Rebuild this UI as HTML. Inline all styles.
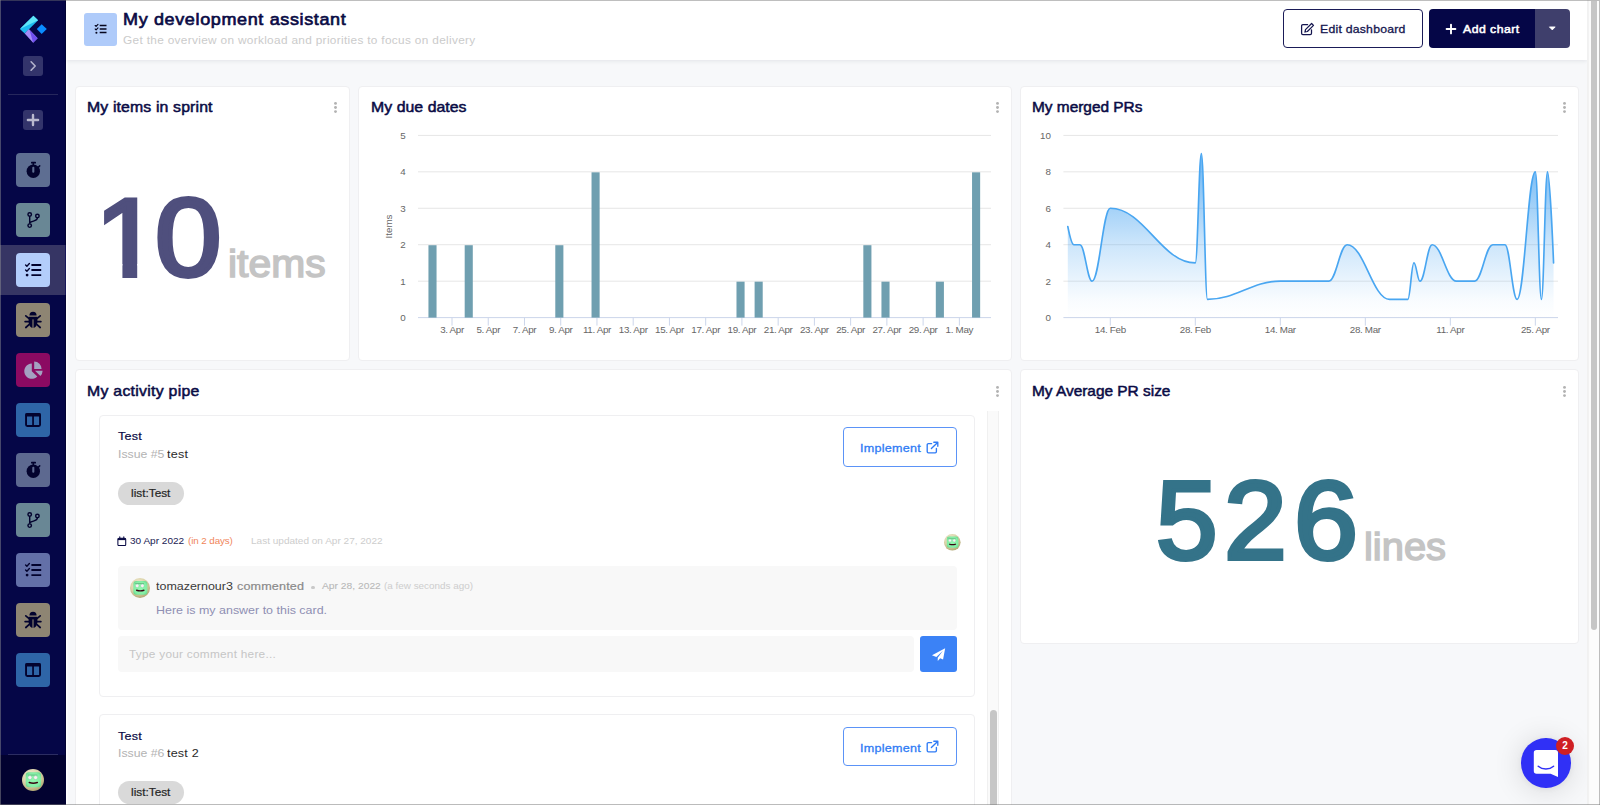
<!DOCTYPE html>
<html lang="en"><head><meta charset="utf-8"><title>My development assistant</title>
<style>
html,body{margin:0;padding:0}
body{width:1600px;height:805px;overflow:hidden;position:relative;background:#f7f8fa;font-family:"Liberation Sans",sans-serif}
.b{position:absolute;box-sizing:border-box;display:block}
.t{position:absolute;white-space:nowrap;line-height:1;display:block}
</style></head><body>
<div class="b" style="left:0;top:0;width:66px;height:805px;background:#050647"></div>
<div class="b" style="left:0.00px;top:755.00px;width:66.00px;height:50.00px;background:#020230"></div>
<div class="b" style="left:8.00px;top:754.00px;width:50.00px;height:1.00px;background:#2c2d62"></div>
<div class="b" style="left:8.00px;top:94.00px;width:50.00px;height:1.00px;background:#26275c"></div>
<svg class="b" style="left:14px;top:10px" width="40" height="40" viewBox="14 10 40 40">
<polygon points="19.900,28.900 33.400,15.700 38.100,20.200 24.700,33.400" fill="#1cb9ee"/>
<polygon points="19.900,28.900 33.400,15.700 38.100,20.200" fill="#5fe6f8"/>
<polygon points="24.700,33.400 28.900,29.100 37.600,38.300 33.100,42.800" fill="#a48cf8"/>
<polygon points="29.600,30 37.600,38.300 33.100,42.800" fill="#6f4ff0"/>
<polygon points="36.800,29.100 41.700,24.200 46.800,29.100 41.700,34.100" fill="#0a8cff"/>
</svg>
<div class="b" style="left:23.00px;top:56.00px;width:20.00px;height:20.00px;background:#33346b;border-radius:3px"></div>
<svg class="b" style="left:23px;top:56px" width="20" height="20" viewBox="0 0 20 20"><path d="M8.100 5.800 L12.200 10 L8.100 14.200" fill="none" stroke="#b3b3cc" stroke-width="1.600" stroke-linecap="round" stroke-linejoin="round"/></svg>
<div class="b" style="left:23.00px;top:110.00px;width:20.00px;height:20.00px;background:#33346b;border-radius:3px"></div>
<svg class="b" style="left:23px;top:110px" width="20" height="20" viewBox="0 0 20 20"><path d="M10 4.900V15.100M4.900 10H15.100" fill="none" stroke="#b9b9ce" stroke-width="2.400" stroke-linecap="round"/></svg>
<div class="b" style="left:65.00px;top:0.00px;width:1.00px;height:805.00px;background:#020233"></div>
<div class="b" style="left:0.00px;top:245.00px;width:66.00px;height:50.00px;background:#363564"></div>
<div class="b" style="left:65.00px;top:245.00px;width:1.00px;height:50.00px;background:#17175a"></div>
<div class="b" style="left:66.00px;top:60.00px;width:1.00px;height:745.00px;background:#fff"></div>
<div class="b" style="left:67.00px;top:60.00px;width:1.00px;height:745.00px;background:rgba(255,255,255,.5)"></div>
<svg class="b" style="left:16px;top:153px" width="34" height="34" viewBox="0 0 34 34"><rect width="34" height="34" rx="4" fill="#5e6e92"/><circle cx="17.300" cy="18.200" r="6.700" fill="#03032e"/><rect x="15" y="8.800" width="5" height="1.700" rx=".6" fill="#03032e"/><rect x="16.500" y="9.800" width="1.600" height="2.400" fill="#03032e"/><path d="M22.500 14.100l1.200-1.200" stroke="#03032e" stroke-width="1.500" stroke-linecap="round"/><rect x="16.250" y="13.800" width="2.100" height="6" rx="1" fill="#5e6e92"/></svg>
<svg class="b" style="left:16px;top:203px" width="34" height="34" viewBox="0 0 34 34"><rect width="34" height="34" rx="4" fill="#698795"/><g fill="none" stroke="#03032e" stroke-width="1.450"><circle cx="13.700" cy="11.400" r="1.750"/><circle cx="13.700" cy="22.600" r="1.750"/><circle cx="21.400" cy="13" r="1.750"/><path d="M13.700 13.200V20.800M21.400 14.800c0 3.600-4.700 2.700-7.700 4.800"/></g></svg>
<svg class="b" style="left:16px;top:253px" width="34" height="34" viewBox="0 0 34 34"><rect width="34" height="34" rx="4" fill="#b3cdfb"/><g fill="none" stroke="#03032e" stroke-linecap="round" stroke-linejoin="round"><path d="M15.400 12H25.200M15.400 17H25.200M15.400 22.100H25.200" stroke-width="1.950" stroke-linecap="butt"/><path d="M9.600 11.900l1.300 1.300 2.500-2.700M9.600 16.900l1.300 1.300 2.500-2.700" stroke-width="1.350"/></g><circle cx="11.100" cy="22.100" r="1.400" fill="#03032e"/></svg>
<svg class="b" style="left:16px;top:303px" width="34" height="34" viewBox="0 0 34 34"><rect width="34" height="34" rx="4" fill="#8e8573"/><path d="M13.400 12.600a3.600 3.900 0 0 1 7.200 0z" fill="#03032e"/><path d="M12.600 13.800h8.800v5.400a4.400 5.800 0 0 1-8.800 0z" fill="#03032e"/><g stroke="#03032e" stroke-width="1.700" stroke-linecap="round" fill="none"><path d="M12.800 15.400l-3-2.600M21.200 15.400l3-2.600M12.600 18.600H9.100M21.400 18.600h3.500M13 21.600l-3.200 2.900M21 21.600l3.200 2.900"/></g><rect x="16.450" y="16.400" width="1.100" height="8.800" fill="#8e8573"/></svg>
<svg class="b" style="left:16px;top:353px" width="34" height="34" viewBox="0 0 34 34"><rect width="34" height="34" rx="4" fill="#8b0a62"/><path d="M15.800 10.600a7.600 7.600 0 1 0 5.500 12.900l-5.500-5.300z" fill="#a4a0c1"/><path d="M18.200 8.600a7.400 7.400 0 0 1 7.400 7.400h-7.400z" fill="#a4a0c1"/><path d="M19 17.700h7.600a7.600 7.600 0 0 1-2.200 5.300z" fill="#a4a0c1"/></svg>
<svg class="b" style="left:16px;top:403px" width="34" height="34" viewBox="0 0 34 34"><rect width="34" height="34" rx="4" fill="#2e65a7"/><rect x="10.050" y="11" width="14" height="12" rx="1.200" fill="none" stroke="#03032e" stroke-width="1.900"/><rect x="9.400" y="10.200" width="15.300" height="3.200" rx=".8" fill="#03032e"/><rect x="16.200" y="11" width="1.700" height="12" fill="#03032e"/></svg>
<svg class="b" style="left:16px;top:453px" width="34" height="34" viewBox="0 0 34 34"><rect width="34" height="34" rx="4" fill="#5d6990"/><circle cx="17.300" cy="18.200" r="6.700" fill="#03032e"/><rect x="15" y="8.800" width="5" height="1.700" rx=".6" fill="#03032e"/><rect x="16.500" y="9.800" width="1.600" height="2.400" fill="#03032e"/><path d="M22.500 14.100l1.200-1.200" stroke="#03032e" stroke-width="1.500" stroke-linecap="round"/><rect x="16.250" y="13.800" width="2.100" height="6" rx="1" fill="#5d6990"/></svg>
<svg class="b" style="left:16px;top:503px" width="34" height="34" viewBox="0 0 34 34"><rect width="34" height="34" rx="4" fill="#698795"/><g fill="none" stroke="#03032e" stroke-width="1.450"><circle cx="13.700" cy="11.400" r="1.750"/><circle cx="13.700" cy="22.600" r="1.750"/><circle cx="21.400" cy="13" r="1.750"/><path d="M13.700 13.200V20.800M21.400 14.800c0 3.600-4.700 2.700-7.700 4.800"/></g></svg>
<svg class="b" style="left:16px;top:553px" width="34" height="34" viewBox="0 0 34 34"><rect width="34" height="34" rx="4" fill="#6370a8"/><g fill="none" stroke="#03032e" stroke-linecap="round" stroke-linejoin="round"><path d="M15.400 12H25.200M15.400 17H25.200M15.400 22.100H25.200" stroke-width="1.950" stroke-linecap="butt"/><path d="M9.600 11.900l1.300 1.300 2.500-2.700M9.600 16.900l1.300 1.300 2.500-2.700" stroke-width="1.350"/></g><circle cx="11.100" cy="22.100" r="1.400" fill="#03032e"/></svg>
<svg class="b" style="left:16px;top:603px" width="34" height="34" viewBox="0 0 34 34"><rect width="34" height="34" rx="4" fill="#8e8573"/><path d="M13.400 12.600a3.600 3.900 0 0 1 7.200 0z" fill="#03032e"/><path d="M12.600 13.800h8.800v5.400a4.400 5.800 0 0 1-8.800 0z" fill="#03032e"/><g stroke="#03032e" stroke-width="1.700" stroke-linecap="round" fill="none"><path d="M12.800 15.400l-3-2.600M21.200 15.400l3-2.600M12.600 18.600H9.100M21.400 18.600h3.500M13 21.600l-3.200 2.900M21 21.600l3.200 2.900"/></g><rect x="16.450" y="16.400" width="1.100" height="8.800" fill="#8e8573"/></svg>
<svg class="b" style="left:16px;top:653px" width="34" height="34" viewBox="0 0 34 34"><rect width="34" height="34" rx="4" fill="#2e65a7"/><rect x="10.050" y="11" width="14" height="12" rx="1.200" fill="none" stroke="#03032e" stroke-width="1.900"/><rect x="9.400" y="10.200" width="15.300" height="3.200" rx=".8" fill="#03032e"/><rect x="16.200" y="11" width="1.700" height="12" fill="#03032e"/></svg>
<svg class="b" style="left:22.40px;top:768.90px" width="22" height="22" viewBox="0 0 22 22"><defs><radialGradient id="ag33779" cx=".42" cy=".34" r=".72"><stop offset="0" stop-color="#f5f1dc"/><stop offset=".55" stop-color="#dbd3a9"/><stop offset="1" stop-color="#aa9f6a"/></radialGradient><radialGradient id="ag33779f" cx=".5" cy=".5" r=".62"><stop offset="0" stop-color="#93f8b1"/><stop offset=".75" stop-color="#84eea5"/><stop offset="1" stop-color="#68d88d"/></radialGradient></defs><circle cx="11" cy="11" r="11" fill="url(#ag33779)"/><rect x="3.700" y="3.300" width="15.400" height="15" rx="3.200" fill="url(#ag33779f)"/><path d="M6.200 6.100H15" stroke="#62b47f" stroke-width=".9" stroke-linecap="round"/><circle cx="7.900" cy="8.600" r="2" fill="#fbeef5" stroke="#74d596" stroke-width=".45"/><circle cx="13.600" cy="8.600" r="2" fill="#fbeef5" stroke="#74d596" stroke-width=".45"/><path d="M7.300 13.500q4 1.400 8 0" fill="none" stroke="#3a0714" stroke-width="1.550" stroke-linecap="round"/></svg>
<div class="b" style="left:66.00px;top:0.00px;width:1521.00px;height:60.00px;background:#fff;box-shadow:0 1px 4px rgba(40,50,70,.10)"></div>
<div class="b" style="left:84.00px;top:12.50px;width:33.00px;height:33.00px;background:#afcbfa;border-radius:3px"></div>
<svg class="b" style="left:84px;top:12px" width="33" height="34" viewBox="0 0 33 34"><g fill="none" stroke="#06061f" stroke-linecap="round" stroke-linejoin="round"><path d="M15.700 13.600H22.500M15.700 17.100H22.500M15.700 20.600H22.500" stroke-width="1.500" stroke-linecap="butt"/><path d="M11.200 13.500l.9.900 1.900-2M11.200 17l.9.900 1.900-2" stroke-width="1.150"/></g><circle cx="12.400" cy="20.700" r="1.050" fill="#06061f"/></svg>
<span class="t" id="t1" style="left:122.80px;top:12.25px;font-size:16.6px;color:#0a0b45;transform-origin:0 0;transform:scaleX(1.0850);letter-spacing:0.586px;-webkit-text-stroke:0.65px #0a0b45;">My development assistant</span>
<span class="t" id="t2" style="left:123.00px;top:35.27px;font-size:10.9px;color:#cbcbcb;transform-origin:0 0;transform:scaleX(1.0850);letter-spacing:0.301px;">Get the overview on workload and priorities to focus on delivery</span>
<div class="b" style="left:1283.00px;top:9.00px;width:139.50px;height:39.00px;border:1px solid #1a1b57;border-radius:4px;background:#fff"></div>
<svg class="b" style="left:1300px;top:22px" width="16" height="14" viewBox="0 0 16 14"><g fill="none" stroke="#15164f" stroke-width="1.25" stroke-linejoin="round" stroke-linecap="round"><path d="M7.6 2.6H2.9a1.3 1.3 0 0 0-1.3 1.300V11.300a1.300 1.300 0 0 0 1.300 1.300H10.200a1.300 1.300 0 0 0 1.300-1.300V7.800"/><path d="M11.600 1.500l1.900 1.900-6.100 6.100-2.400.500.500-2.400z"/></g></svg>
<span class="t" id="t3" style="left:1319.50px;top:23.93px;font-size:11.3px;color:#15164f;transform-origin:0 0;transform:scaleX(1.0850);letter-spacing:0.207px;-webkit-text-stroke:0.3px #15164f;">Edit dashboard</span>
<div class="b" style="left:1429.00px;top:9.00px;width:106.00px;height:39.00px;background:#050647;border-radius:4px 0 0 4px"></div>
<div class="b" style="left:1535.00px;top:9.00px;width:35.00px;height:39.00px;background:#3f3f6c;border-radius:0 4px 4px 0"></div>
<svg class="b" style="left:1445px;top:22.5px" width="12" height="12" viewBox="0 0 12 12"><path d="M6 1.600V10.400M1.600 6H10.400" stroke="#fff" stroke-width="1.900" stroke-linecap="round"/></svg>
<span class="t" id="t4" style="left:1463.00px;top:23.93px;font-size:11.3px;color:#fff;transform-origin:0 0;transform:scaleX(1.0850);letter-spacing:0.423px;-webkit-text-stroke:0.5px #fff;">Add chart</span>
<svg class="b" style="left:1547.5px;top:25.5px" width="10" height="6" viewBox="0 0 10 6"><path d="M1.400.9h5.800L4.300 3.900z" fill="#fff" stroke="#fff" stroke-width=".8" stroke-linejoin="round"/></svg>
<div class="b" style="left:75.00px;top:86.00px;width:275.00px;height:275.00px;background:#fff;border:1px solid #efeff1;border-radius:4px;"></div>
<div class="b" style="left:358.00px;top:86.00px;width:654.00px;height:275.00px;background:#fff;border:1px solid #efeff1;border-radius:4px;"></div>
<div class="b" style="left:1020.00px;top:86.00px;width:559.00px;height:275.00px;background:#fff;border:1px solid #efeff1;border-radius:4px;"></div>
<div class="b" style="left:75.00px;top:369.00px;width:937.00px;height:461.00px;background:#fff;border:1px solid #efeff1;border-radius:4px;"></div>
<div class="b" style="left:1020.00px;top:369.00px;width:559.00px;height:275.00px;background:#fff;border:1px solid #efeff1;border-radius:4px;"></div>
<svg class="b" style="left:332.90px;top:101.00px" width="5" height="13" viewBox="0 0 5 13"><circle cx="2.500" cy="2.400" r="1.450" fill="#b2b2b2"/><circle cx="2.500" cy="6.500" r="1.450" fill="#b2b2b2"/><circle cx="2.500" cy="10.600" r="1.450" fill="#b2b2b2"/></svg>
<svg class="b" style="left:994.90px;top:101.00px" width="5" height="13" viewBox="0 0 5 13"><circle cx="2.500" cy="2.400" r="1.450" fill="#b2b2b2"/><circle cx="2.500" cy="6.500" r="1.450" fill="#b2b2b2"/><circle cx="2.500" cy="10.600" r="1.450" fill="#b2b2b2"/></svg>
<svg class="b" style="left:1562.20px;top:101.00px" width="5" height="13" viewBox="0 0 5 13"><circle cx="2.500" cy="2.400" r="1.450" fill="#b2b2b2"/><circle cx="2.500" cy="6.500" r="1.450" fill="#b2b2b2"/><circle cx="2.500" cy="10.600" r="1.450" fill="#b2b2b2"/></svg>
<svg class="b" style="left:994.90px;top:384.70px" width="5" height="13" viewBox="0 0 5 13"><circle cx="2.500" cy="2.400" r="1.450" fill="#b2b2b2"/><circle cx="2.500" cy="6.500" r="1.450" fill="#b2b2b2"/><circle cx="2.500" cy="10.600" r="1.450" fill="#b2b2b2"/></svg>
<svg class="b" style="left:1562.20px;top:384.70px" width="5" height="13" viewBox="0 0 5 13"><circle cx="2.500" cy="2.400" r="1.450" fill="#b2b2b2"/><circle cx="2.500" cy="6.500" r="1.450" fill="#b2b2b2"/><circle cx="2.500" cy="10.600" r="1.450" fill="#b2b2b2"/></svg>
<span class="t" id="t5" style="left:87.00px;top:100.14px;font-size:14.6px;color:#0a0b45;transform-origin:0 0;transform:scaleX(1.0850);letter-spacing:0.124px;-webkit-text-stroke:0.5px #0a0b45;">My items in sprint</span>
<span class="t" id="t6" style="left:370.50px;top:100.14px;font-size:14.6px;color:#0a0b45;transform-origin:0 0;transform:scaleX(1.0850);letter-spacing:0.040px;-webkit-text-stroke:0.5px #0a0b45;">My due dates</span>
<span class="t" id="t7" style="left:1032.00px;top:100.14px;font-size:14.6px;color:#0a0b45;transform-origin:0 0;transform:scaleX(1.0552);-webkit-text-stroke:0.5px #0a0b45;">My merged PRs</span>
<span class="t" id="t8" style="left:87.00px;top:384.14px;font-size:14.6px;color:#0a0b45;transform-origin:0 0;transform:scaleX(1.0850);letter-spacing:0.251px;-webkit-text-stroke:0.5px #0a0b45;">My activity pipe</span>
<span class="t" id="t9" style="left:1032.00px;top:383.74px;font-size:14.6px;color:#0a0b45;transform-origin:0 0;transform:scaleX(1.0554);-webkit-text-stroke:0.5px #0a0b45;">My Average PR size</span>
<div><span class="t" style="left:95.13px;top:182.91px;font-size:110.8px;color:#4f4f7d;-webkit-text-stroke:4.2px #4f4f7d;transform-origin:0 0;transform:scaleX(1.0629);clip-path:polygon(-10px -10px,71.6px -10px,71.6px 81.2px,39.7px 81.2px,39.7px 120.8px,25.8px 120.8px,25.8px 81.2px,-10px 81.2px);">1</span><span class="t" style="left:154.90px;top:182.91px;font-size:110.8px;color:#4f4f7d;-webkit-text-stroke:4.2px #4f4f7d;transform-origin:0 0;transform:scaleX(1.0794);">0</span> <span class="t" id="t10" style="left:227.80px;top:245.11px;font-size:38.5px;color:#c4c4c4;transform-origin:0 0;transform:scaleX(1.0610);-webkit-text-stroke:1.5px #c4c4c4;">items</span></div>
<div><span class="t" style="left:1156.07px;top:465.51px;font-size:110.8px;color:#347389;-webkit-text-stroke:4.2px #347389;transform-origin:0 0;transform:scaleX(0.9979);">5</span><span class="t" style="left:1223.89px;top:465.51px;font-size:110.8px;color:#347389;-webkit-text-stroke:4.2px #347389;transform-origin:0 0;transform:scaleX(1.0196);">2</span><span class="t" style="left:1294.31px;top:465.51px;font-size:110.8px;color:#347389;-webkit-text-stroke:4.2px #347389;transform-origin:0 0;transform:scaleX(1.0384);">6</span> <span class="t" id="t11" style="left:1364.20px;top:528.31px;font-size:38.5px;color:#c4c4c4;transform-origin:0 0;transform:scaleX(1.0355);-webkit-text-stroke:1.5px #c4c4c4;">lines</span></div>
<svg class="b" style="left:0;top:0" width="1600" height="805" viewBox="0 0 1600 805" font-family="Liberation Sans, sans-serif">
<defs><linearGradient id="ar" gradientUnits="userSpaceOnUse" x1="0" y1="150" x2="0" y2="317.6"><stop offset="0.000" stop-color="#3f9ff0" stop-opacity="0.8"/><stop offset="0.370" stop-color="#3f9ff0" stop-opacity="0.45"/><stop offset="0.567" stop-color="#3f9ff0" stop-opacity="0.26"/><stop offset="0.782" stop-color="#3f9ff0" stop-opacity="0.11"/><stop offset="0.895" stop-color="#3f9ff0" stop-opacity="0.035"/><stop offset="1.000" stop-color="#3f9ff0" stop-opacity="0.0"/></linearGradient></defs>
<path d="M418 317.60H991" stroke="#ccd6eb" stroke-width="1"/>
<text x="405.6" y="321.10" font-size="9.8" fill="#666" text-anchor="end">0</text>
<path d="M418 281.16H991" stroke="#e6e6e6" stroke-width="1"/>
<text x="405.6" y="284.66" font-size="9.8" fill="#666" text-anchor="end">1</text>
<path d="M418 244.72H991" stroke="#e6e6e6" stroke-width="1"/>
<text x="405.6" y="248.22" font-size="9.8" fill="#666" text-anchor="end">2</text>
<path d="M418 208.28H991" stroke="#e6e6e6" stroke-width="1"/>
<text x="405.6" y="211.78" font-size="9.8" fill="#666" text-anchor="end">3</text>
<path d="M418 171.84H991" stroke="#e6e6e6" stroke-width="1"/>
<text x="405.6" y="175.34" font-size="9.8" fill="#666" text-anchor="end">4</text>
<path d="M418 135.40H991" stroke="#e6e6e6" stroke-width="1"/>
<text x="405.6" y="138.90" font-size="9.8" fill="#666" text-anchor="end">5</text>
<text transform="translate(391.8 226.5) rotate(-90)" font-size="9.8" fill="#666" text-anchor="middle">Items</text>
<path d="M452.00 317.6V325.6" stroke="#ccd6eb" stroke-width="1"/>
<text x="452.00" y="333.2" font-size="9.8" fill="#666" text-anchor="middle" letter-spacing="-.32">3. Apr</text>
<path d="M488.24 317.6V325.6" stroke="#ccd6eb" stroke-width="1"/>
<text x="488.24" y="333.2" font-size="9.8" fill="#666" text-anchor="middle" letter-spacing="-.32">5. Apr</text>
<path d="M524.48 317.6V325.6" stroke="#ccd6eb" stroke-width="1"/>
<text x="524.48" y="333.2" font-size="9.8" fill="#666" text-anchor="middle" letter-spacing="-.32">7. Apr</text>
<path d="M560.72 317.6V325.6" stroke="#ccd6eb" stroke-width="1"/>
<text x="560.72" y="333.2" font-size="9.8" fill="#666" text-anchor="middle" letter-spacing="-.32">9. Apr</text>
<path d="M596.96 317.6V325.6" stroke="#ccd6eb" stroke-width="1"/>
<text x="596.96" y="333.2" font-size="9.8" fill="#666" text-anchor="middle" letter-spacing="-.32">11. Apr</text>
<path d="M633.20 317.6V325.6" stroke="#ccd6eb" stroke-width="1"/>
<text x="633.20" y="333.2" font-size="9.8" fill="#666" text-anchor="middle" letter-spacing="-.32">13. Apr</text>
<path d="M669.44 317.6V325.6" stroke="#ccd6eb" stroke-width="1"/>
<text x="669.44" y="333.2" font-size="9.8" fill="#666" text-anchor="middle" letter-spacing="-.32">15. Apr</text>
<path d="M705.68 317.6V325.6" stroke="#ccd6eb" stroke-width="1"/>
<text x="705.68" y="333.2" font-size="9.8" fill="#666" text-anchor="middle" letter-spacing="-.32">17. Apr</text>
<path d="M741.92 317.6V325.6" stroke="#ccd6eb" stroke-width="1"/>
<text x="741.92" y="333.2" font-size="9.8" fill="#666" text-anchor="middle" letter-spacing="-.32">19. Apr</text>
<path d="M778.16 317.6V325.6" stroke="#ccd6eb" stroke-width="1"/>
<text x="778.16" y="333.2" font-size="9.8" fill="#666" text-anchor="middle" letter-spacing="-.32">21. Apr</text>
<path d="M814.40 317.6V325.6" stroke="#ccd6eb" stroke-width="1"/>
<text x="814.40" y="333.2" font-size="9.8" fill="#666" text-anchor="middle" letter-spacing="-.32">23. Apr</text>
<path d="M850.64 317.6V325.6" stroke="#ccd6eb" stroke-width="1"/>
<text x="850.64" y="333.2" font-size="9.8" fill="#666" text-anchor="middle" letter-spacing="-.32">25. Apr</text>
<path d="M886.88 317.6V325.6" stroke="#ccd6eb" stroke-width="1"/>
<text x="886.88" y="333.2" font-size="9.8" fill="#666" text-anchor="middle" letter-spacing="-.32">27. Apr</text>
<path d="M923.12 317.6V325.6" stroke="#ccd6eb" stroke-width="1"/>
<text x="923.12" y="333.2" font-size="9.8" fill="#666" text-anchor="middle" letter-spacing="-.32">29. Apr</text>
<path d="M959.36 317.6V325.6" stroke="#ccd6eb" stroke-width="1"/>
<text x="959.36" y="333.2" font-size="9.8" fill="#666" text-anchor="middle" letter-spacing="-.32">1. May</text>
<rect x="428.45" y="245.22" width="8.1" height="72.38" fill="#6f9fb0"/>
<rect x="464.69" y="245.22" width="8.1" height="72.38" fill="#6f9fb0"/>
<rect x="555.29" y="245.22" width="8.1" height="72.38" fill="#6f9fb0"/>
<rect x="591.53" y="172.34" width="8.1" height="145.26" fill="#6f9fb0"/>
<rect x="736.49" y="281.66" width="8.1" height="35.94" fill="#6f9fb0"/>
<rect x="754.61" y="281.66" width="8.1" height="35.94" fill="#6f9fb0"/>
<rect x="863.33" y="245.22" width="8.1" height="72.38" fill="#6f9fb0"/>
<rect x="881.45" y="281.66" width="8.1" height="35.94" fill="#6f9fb0"/>
<rect x="935.81" y="281.66" width="8.1" height="35.94" fill="#6f9fb0"/>
<rect x="972.05" y="172.34" width="8.1" height="145.26" fill="#6f9fb0"/>
<path d="M1063.4 317.60H1558" stroke="#ccd6eb" stroke-width="1"/>
<text x="1051" y="321.10" font-size="9.8" fill="#666" text-anchor="end">0</text>
<path d="M1063.4 281.16H1558" stroke="#e6e6e6" stroke-width="1"/>
<text x="1051" y="284.66" font-size="9.8" fill="#666" text-anchor="end">2</text>
<path d="M1063.4 244.72H1558" stroke="#e6e6e6" stroke-width="1"/>
<text x="1051" y="248.22" font-size="9.8" fill="#666" text-anchor="end">4</text>
<path d="M1063.4 208.28H1558" stroke="#e6e6e6" stroke-width="1"/>
<text x="1051" y="211.78" font-size="9.8" fill="#666" text-anchor="end">6</text>
<path d="M1063.4 171.84H1558" stroke="#e6e6e6" stroke-width="1"/>
<text x="1051" y="175.34" font-size="9.8" fill="#666" text-anchor="end">8</text>
<path d="M1063.4 135.40H1558" stroke="#e6e6e6" stroke-width="1"/>
<text x="1051" y="138.90" font-size="9.8" fill="#666" text-anchor="end">10</text>
<path d="M1110.30 317.6V325.6" stroke="#ccd6eb" stroke-width="1"/>
<text x="1110.30" y="333.2" font-size="9.8" fill="#666" text-anchor="middle" letter-spacing="-.32">14. Feb</text>
<path d="M1195.31 317.6V325.6" stroke="#ccd6eb" stroke-width="1"/>
<text x="1195.31" y="333.2" font-size="9.8" fill="#666" text-anchor="middle" letter-spacing="-.32">28. Feb</text>
<path d="M1280.32 317.6V325.6" stroke="#ccd6eb" stroke-width="1"/>
<text x="1280.32" y="333.2" font-size="9.8" fill="#666" text-anchor="middle" letter-spacing="-.32">14. Mar</text>
<path d="M1365.32 317.6V325.6" stroke="#ccd6eb" stroke-width="1"/>
<text x="1365.32" y="333.2" font-size="9.8" fill="#666" text-anchor="middle" letter-spacing="-.32">28. Mar</text>
<path d="M1450.33 317.6V325.6" stroke="#ccd6eb" stroke-width="1"/>
<text x="1450.33" y="333.2" font-size="9.8" fill="#666" text-anchor="middle" letter-spacing="-.32">11. Apr</text>
<path d="M1535.34 317.6V325.6" stroke="#ccd6eb" stroke-width="1"/>
<text x="1535.34" y="333.2" font-size="9.8" fill="#666" text-anchor="middle" letter-spacing="-.32">25. Apr</text>
<path d="M1067.80 226.50C1067.80 226.50 1071.44 244.72 1073.87 244.72C1076.30 244.72 1077.51 244.72 1079.94 244.72C1084.80 244.72 1087.23 281.16 1092.08 281.16C1099.37 281.16 1103.01 208.28 1110.30 208.28C1144.30 208.28 1161.30 262.94 1195.31 262.94C1197.74 262.94 1198.95 153.62 1201.38 153.62C1203.81 153.62 1205.02 299.38 1207.45 299.38C1236.60 299.38 1251.17 281.16 1280.32 281.16C1299.75 281.16 1309.46 281.16 1328.89 281.16C1336.18 281.16 1339.82 244.72 1347.11 244.72C1364.11 244.72 1372.61 299.38 1389.61 299.38C1396.90 299.38 1400.54 299.38 1407.83 299.38C1410.26 299.38 1411.47 262.94 1413.90 262.94C1416.33 262.94 1417.54 281.16 1419.97 281.16C1424.83 281.16 1427.26 244.72 1432.12 244.72C1441.83 244.72 1446.69 281.16 1456.40 281.16C1463.69 281.16 1467.33 281.16 1474.62 281.16C1481.91 281.16 1485.55 244.72 1492.84 244.72C1497.69 244.72 1500.12 244.72 1504.98 244.72C1509.84 244.72 1512.27 299.38 1517.12 299.38C1524.41 299.38 1528.05 171.84 1535.34 171.84C1537.77 171.84 1538.98 299.38 1541.41 299.38C1543.84 299.38 1545.06 171.84 1547.48 171.84C1549.91 171.84 1553.56 262.94 1553.56 262.94L1553.56 317.6L1067.80 317.6Z" fill="url(#ar)"/>
<path d="M1067.80 226.50C1067.80 226.50 1071.44 244.72 1073.87 244.72C1076.30 244.72 1077.51 244.72 1079.94 244.72C1084.80 244.72 1087.23 281.16 1092.08 281.16C1099.37 281.16 1103.01 208.28 1110.30 208.28C1144.30 208.28 1161.30 262.94 1195.31 262.94C1197.74 262.94 1198.95 153.62 1201.38 153.62C1203.81 153.62 1205.02 299.38 1207.45 299.38C1236.60 299.38 1251.17 281.16 1280.32 281.16C1299.75 281.16 1309.46 281.16 1328.89 281.16C1336.18 281.16 1339.82 244.72 1347.11 244.72C1364.11 244.72 1372.61 299.38 1389.61 299.38C1396.90 299.38 1400.54 299.38 1407.83 299.38C1410.26 299.38 1411.47 262.94 1413.90 262.94C1416.33 262.94 1417.54 281.16 1419.97 281.16C1424.83 281.16 1427.26 244.72 1432.12 244.72C1441.83 244.72 1446.69 281.16 1456.40 281.16C1463.69 281.16 1467.33 281.16 1474.62 281.16C1481.91 281.16 1485.55 244.72 1492.84 244.72C1497.69 244.72 1500.12 244.72 1504.98 244.72C1509.84 244.72 1512.27 299.38 1517.12 299.38C1524.41 299.38 1528.05 171.84 1535.34 171.84C1537.77 171.84 1538.98 299.38 1541.41 299.38C1543.84 299.38 1545.06 171.84 1547.48 171.84C1549.91 171.84 1553.56 262.94 1553.56 262.94" fill="none" stroke="#49a6f1" stroke-width="1.650" stroke-linejoin="round" stroke-linecap="round"/>
</svg>
<div class="b" style="left:987.00px;top:411.00px;width:11.80px;height:394.00px;background:#fafafa;box-shadow:inset 1px 0 0 #f0f0f0,inset -1px 0 0 #f0f0f0"></div>
<div class="b" style="left:990.00px;top:710.00px;width:6.70px;height:120.00px;background:#c6c6c6;border-radius:4px"></div>
<div><div class="b" style="left:99.00px;top:415.00px;width:876.00px;height:282.00px;background:#fff;border:1px solid #efeff1;border-radius:4px;"></div> <span class="t" id="t12" style="left:117.50px;top:430.48px;font-size:11.6px;color:#0a0b45;transform-origin:0 0;transform:scaleX(1.0850);letter-spacing:0.214px;-webkit-text-stroke:0.2px #0a0b45;">Test</span> <span class="t" id="t13" style="left:117.50px;top:447.78px;font-size:11.6px;color:#b3b3b3;transform-origin:0 0;transform:scaleX(1.0564);">Issue #5</span> <span class="t" id="t14" style="left:166.50px;top:447.78px;font-size:11.6px;color:#2a2a2a;transform-origin:0 0;transform:scaleX(1.0850);letter-spacing:0.236px;">test</span> <div class="b" style="left:843.30px;top:427.40px;width:113.50px;height:39.30px;border:1px solid #5b93f7;border-radius:4px;background:#fff"></div> <span class="t" id="t15" style="left:860.00px;top:442.38px;font-size:11.6px;color:#2f7bf5;transform-origin:0 0;transform:scaleX(1.0850);letter-spacing:0.223px;-webkit-text-stroke:0.3px #2f7bf5;">Implement</span> <svg class="b" style="left:926.3px;top:440.60px" width="13" height="13" viewBox="0 0 13 13"><g fill="none" stroke="#2f7bf5" stroke-width="1.350" stroke-linecap="round" stroke-linejoin="round"><path d="M5.600 2.600H2.400a1.200 1.200 0 0 0-1.200 1.200V10.600a1.200 1.200 0 0 0 1.200 1.200H9.200a1.200 1.200 0 0 0 1.200-1.200V7.400"/><path d="M5.400 7.600L11.600 1.400M7.800 1.200h4v4"/></g></svg> <div class="b" style="left:117.50px;top:482.00px;width:66.50px;height:23.00px;background:#d9d9d9;border-radius:12px"></div> <span class="t" id="t16" style="left:131.00px;top:487.87px;font-size:10.9px;color:#262626;transform-origin:0 0;transform:scaleX(1.0850);-webkit-text-stroke:0.2px #262626;">list:Test</span> <svg class="b" style="left:117px;top:535.80px" width="9.600" height="10.500" viewBox="0 0 10 11"><rect x=".9" y="2.300" width="8.200" height="7.800" rx="1.200" fill="none" stroke="#0a0b45" stroke-width="1.100"/><rect x=".9" y="2.300" width="8.200" height="2" fill="#0a0b45"/><path d="M2.900.7v2M7.100.7v2" stroke="#0a0b45" stroke-width="1.100" stroke-linecap="round"/></svg> <span class="t" id="t17" style="left:130.00px;top:535.90px;font-size:9.8px;color:#1a1b52;transform-origin:0 0;transform:scaleX(1.0257);">30 Apr 2022</span> <span class="t" id="t18" style="left:188.00px;top:535.90px;font-size:9.8px;color:#f0855a;letter-spacing:-0.086px;">(in 2 days)</span> <span class="t" id="t19" style="left:250.50px;top:535.90px;font-size:9.8px;color:#cdcdcd;transform-origin:0 0;transform:scaleX(1.0236);">Last updated on Apr 27, 2022</span> <svg class="b" style="left:944.40px;top:534.40px" width="16.6" height="16.6" viewBox="0 0 22 22"><defs><radialGradient id="ag952542" cx=".42" cy=".34" r=".72"><stop offset="0" stop-color="#f5f1dc"/><stop offset=".55" stop-color="#dbd3a9"/><stop offset="1" stop-color="#aa9f6a"/></radialGradient><radialGradient id="ag952542f" cx=".5" cy=".5" r=".62"><stop offset="0" stop-color="#93f8b1"/><stop offset=".75" stop-color="#84eea5"/><stop offset="1" stop-color="#68d88d"/></radialGradient></defs><circle cx="11" cy="11" r="11" fill="url(#ag952542)"/><rect x="3.700" y="3.300" width="15.400" height="15" rx="3.200" fill="url(#ag952542f)"/><path d="M6.200 6.100H15" stroke="#62b47f" stroke-width=".9" stroke-linecap="round"/><circle cx="7.900" cy="8.600" r="2" fill="#fbeef5" stroke="#74d596" stroke-width=".45"/><circle cx="13.600" cy="8.600" r="2" fill="#fbeef5" stroke="#74d596" stroke-width=".45"/><path d="M7.300 13.500q4 1.400 8 0" fill="none" stroke="#3a0714" stroke-width="1.550" stroke-linecap="round"/></svg> <div class="b" style="left:117.50px;top:566.00px;width:839.10px;height:63.60px;background:#f8f8f8;border-radius:4px"></div> <svg class="b" style="left:129.50px;top:578.00px" width="20" height="20" viewBox="0 0 22 22"><defs><radialGradient id="ag139588" cx=".42" cy=".34" r=".72"><stop offset="0" stop-color="#f5f1dc"/><stop offset=".55" stop-color="#dbd3a9"/><stop offset="1" stop-color="#aa9f6a"/></radialGradient><radialGradient id="ag139588f" cx=".5" cy=".5" r=".62"><stop offset="0" stop-color="#93f8b1"/><stop offset=".75" stop-color="#84eea5"/><stop offset="1" stop-color="#68d88d"/></radialGradient></defs><circle cx="11" cy="11" r="11" fill="url(#ag139588)"/><rect x="3.700" y="3.300" width="15.400" height="15" rx="3.200" fill="url(#ag139588f)"/><path d="M6.200 6.100H15" stroke="#62b47f" stroke-width=".9" stroke-linecap="round"/><circle cx="7.900" cy="8.600" r="2" fill="#fbeef5" stroke="#74d596" stroke-width=".45"/><circle cx="13.600" cy="8.600" r="2" fill="#fbeef5" stroke="#74d596" stroke-width=".45"/><path d="M7.300 13.500q4 1.400 8 0" fill="none" stroke="#3a0714" stroke-width="1.550" stroke-linecap="round"/></svg> <span class="t" id="t20" style="left:156.00px;top:580.48px;font-size:11.6px;color:#3a3a3a;transform-origin:0 0;transform:scaleX(1.0748);">tomazernour3</span> <span class="t" id="t21" style="left:237.00px;top:580.48px;font-size:11.6px;color:#8a8a8a;transform-origin:0 0;transform:scaleX(1.0850);letter-spacing:0.141px;-webkit-text-stroke:0.2px #8a8a8a;">commented</span> <div class="b" style="left:311.40px;top:586.10px;width:3.20px;height:3.20px;background:#c9c9c9;border-radius:50%"></div> <span class="t" id="t22" style="left:321.50px;top:581.10px;font-size:9.8px;color:#b9b9b9;transform-origin:0 0;transform:scaleX(1.0480);-webkit-text-stroke:0.1px #b9b9b9;">Apr 28, 2022</span> <span class="t" id="t23" style="left:384.00px;top:581.10px;font-size:9.8px;color:#cdcdcd;transform-origin:0 0;transform:scaleX(1.0087);">(a few seconds ago)</span> <span class="t" id="t24" style="left:156.00px;top:603.68px;font-size:11.6px;color:#8f8fb3;transform-origin:0 0;transform:scaleX(1.0750);">Here is my answer to this card.</span> <div class="b" style="left:117.50px;top:636.00px;width:796.50px;height:36.30px;background:#f8f8f8;border-radius:4px"></div> <span class="t" id="t25" style="left:129.30px;top:649.17px;font-size:10.9px;color:#c6c6c6;transform-origin:0 0;transform:scaleX(1.0850);letter-spacing:0.241px;">Type your comment here...</span> <div class="b" style="left:920.00px;top:636.00px;width:36.60px;height:36.30px;background:#3b82f6;border-radius:3px"></div> <svg class="b" style="left:931px;top:646.50px" width="15.500" height="15.500" viewBox="0 0 14 14"><path d="M12.800 1.100L.9 7.500l3.900 1.500 6-5.600-4.700 6.200v3.100l2.200-2.500 2.600 1.100z" fill="#fff"/></svg></div>
<div><div class="b" style="left:99.00px;top:714.00px;width:876.00px;height:282.00px;background:#fff;border:1px solid #efeff1;border-radius:4px;"></div> <span class="t" id="t26" style="left:117.50px;top:729.68px;font-size:11.6px;color:#0a0b45;transform-origin:0 0;transform:scaleX(1.0850);letter-spacing:0.214px;-webkit-text-stroke:0.2px #0a0b45;">Test</span> <span class="t" id="t27" style="left:117.50px;top:746.98px;font-size:11.6px;color:#b3b3b3;transform-origin:0 0;transform:scaleX(1.0564);">Issue #6</span> <span class="t" id="t28" style="left:166.50px;top:746.98px;font-size:11.6px;color:#2a2a2a;transform-origin:0 0;transform:scaleX(1.0850);letter-spacing:0.158px;">test 2</span> <div class="b" style="left:843.30px;top:726.60px;width:113.50px;height:39.30px;border:1px solid #5b93f7;border-radius:4px;background:#fff"></div> <span class="t" id="t29" style="left:860.00px;top:741.58px;font-size:11.6px;color:#2f7bf5;transform-origin:0 0;transform:scaleX(1.0850);letter-spacing:0.223px;-webkit-text-stroke:0.3px #2f7bf5;">Implement</span> <svg class="b" style="left:926.3px;top:739.80px" width="13" height="13" viewBox="0 0 13 13"><g fill="none" stroke="#2f7bf5" stroke-width="1.350" stroke-linecap="round" stroke-linejoin="round"><path d="M5.600 2.600H2.400a1.200 1.200 0 0 0-1.200 1.200V10.600a1.200 1.200 0 0 0 1.200 1.200H9.200a1.200 1.200 0 0 0 1.200-1.200V7.400"/><path d="M5.400 7.600L11.600 1.400M7.800 1.200h4v4"/></g></svg> <div class="b" style="left:117.50px;top:781.20px;width:66.50px;height:23.00px;background:#d9d9d9;border-radius:12px"></div> <span class="t" id="t30" style="left:131.00px;top:787.07px;font-size:10.9px;color:#262626;transform-origin:0 0;transform:scaleX(1.0850);-webkit-text-stroke:0.2px #262626;">list:Test</span></div>
<div class="b" style="left:1521.00px;top:738.20px;width:49.60px;height:49.60px;background:#3030f6;border-radius:50%;box-shadow:0 1px 6px rgba(0,0,0,.05),0 2px 30px rgba(0,0,0,.14)"></div>
<svg class="b" style="left:1532px;top:748px" width="28" height="31" viewBox="0 0 28 31"><path d="M4.600 2h18.600a2.800 2.800 0 0 1 2.800 2.800V29l-7.400-3.200H4.600a2.800 2.800 0 0 1-2.800-2.800V4.800A2.800 2.800 0 0 1 4.600 2z" fill="#fff"/><path d="M6.200 18.200c4.200 3.700 11.200 3.700 15.400 0" fill="none" stroke="#3030f6" stroke-width="1.500" stroke-linecap="round"/></svg>
<div class="b" style="left:1556.00px;top:736.80px;width:18.10px;height:18.10px;background:#cf1f24;border-radius:50%"></div>
<span class="t" id="t31" style="left:1565.05px;top:741.24px;font-size:10px;color:#fff;font-weight:700;transform:translateX(-50%);">2</span>
<div class="b" style="left:1587.00px;top:0.00px;width:13.00px;height:805.00px;background:#fcfcfc;box-shadow:inset 2px 0 1px #f1f1f1"></div>
<div class="b" style="left:1591.00px;top:1.00px;width:6.20px;height:629.30px;background:#c6c6c6;border-radius:0 0 4px 4px"></div>
<div class="b" style="left:0.00px;top:0.00px;width:1600.00px;height:1.00px;background:rgba(110,110,110,.45)"></div>
<div class="b" style="left:0.00px;top:0.00px;width:1.00px;height:805.00px;background:rgba(150,150,150,.45)"></div>
<div class="b" style="left:1599.00px;top:0.00px;width:1.00px;height:805.00px;background:#bdbdbd"></div>
<div class="b" style="left:0.00px;top:804.00px;width:1600.00px;height:1.00px;background:rgba(120,120,120,.5)"></div>
</body></html>
